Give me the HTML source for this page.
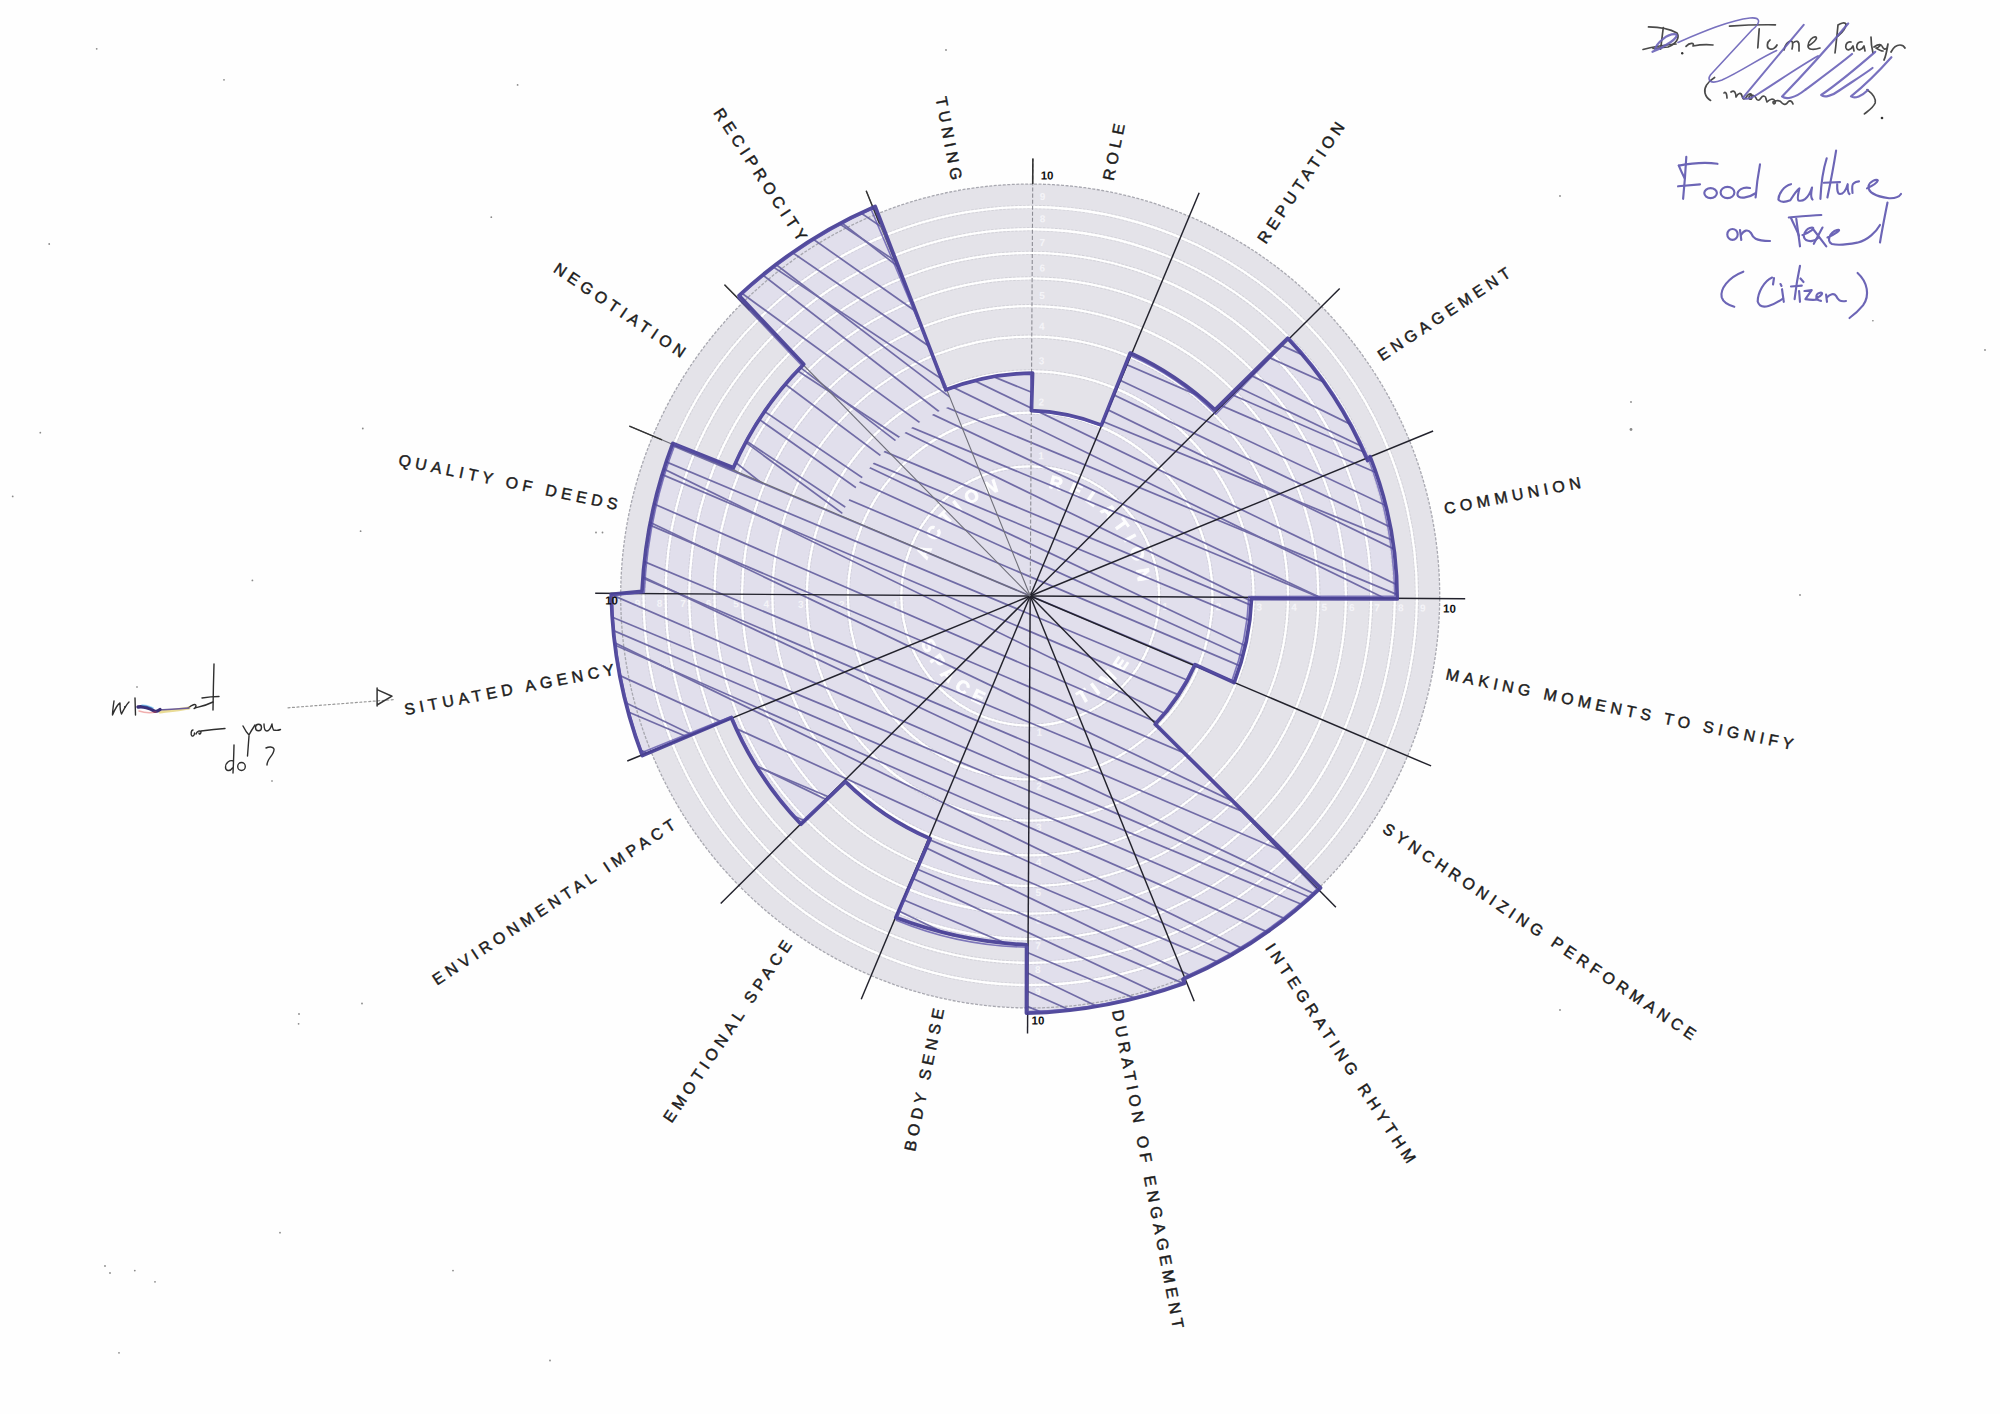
<!DOCTYPE html><html><head><meta charset="utf-8"><style>html,body{margin:0;padding:0;background:#fefefe;}svg{display:block}</style></head><body>
<svg width="2000" height="1414" viewBox="0 0 2000 1414" font-family="Liberation Sans, sans-serif">
<rect width="2000" height="1414" fill="#fefefe"/>
<g transform="translate(1030.2,596.0) rotate(0.35) scale(1,1.006)">
<circle r="409.5" fill="#e4e3e9"/>
<defs><clipPath id="cp"><path d="M0.0,-185.0 A185.0,185.0 0 0 1 70.8,-170.9 L99.9,-241.1 A261.0,261.0 0 0 1 184.6,-184.6 L257.4,-257.4 A364.0,364.0 0 0 1 336.3,-139.3 L338.1,-140.1 A366.0,366.0 0 0 1 366.0,-0.0 L221.0,-0.0 A221.0,221.0 0 0 1 204.2,84.6 L164.5,68.1 A178.0,178.0 0 0 1 125.9,125.9 L290.6,290.6 A411.0,411.0 0 0 1 157.3,379.7 L158.4,382.5 A414.0,414.0 0 0 1 0.0,414.0 L0.0,347.0 A347.0,347.0 0 0 1 -132.8,320.6 L-99.5,240.2 A260.0,260.0 0 0 1 -183.8,183.8 L-227.0,227.0 A321.0,321.0 0 0 1 -296.6,122.8 L-387.1,160.3 A419.0,419.0 0 0 1 -419.0,0.0 L-388.0,0.0 A388.0,388.0 0 0 1 -358.5,-148.5 L-297.5,-123.2 A322.0,322.0 0 0 1 -227.7,-227.7 L-294.2,-294.2 A416.0,416.0 0 0 1 -159.2,-384.3 L-84.6,-204.2 A221.0,221.0 0 0 1 -0.0,-221.0 Z"/></clipPath>
<path id="arcTop" d="M-109.0,0.0 A109,109 0 0 1 109.0,-0.0"/>
<path id="arcBot" d="M-119.0,0.0 A119,119 0 0 0 119.0,-0.0"/>
</defs>
<path d="M0.0,-185.0 A185.0,185.0 0 0 1 70.8,-170.9 L99.9,-241.1 A261.0,261.0 0 0 1 184.6,-184.6 L257.4,-257.4 A364.0,364.0 0 0 1 336.3,-139.3 L338.1,-140.1 A366.0,366.0 0 0 1 366.0,-0.0 L221.0,-0.0 A221.0,221.0 0 0 1 204.2,84.6 L164.5,68.1 A178.0,178.0 0 0 1 125.9,125.9 L290.6,290.6 A411.0,411.0 0 0 1 157.3,379.7 L158.4,382.5 A414.0,414.0 0 0 1 0.0,414.0 L0.0,347.0 A347.0,347.0 0 0 1 -132.8,320.6 L-99.5,240.2 A260.0,260.0 0 0 1 -183.8,183.8 L-227.0,227.0 A321.0,321.0 0 0 1 -296.6,122.8 L-387.1,160.3 A419.0,419.0 0 0 1 -419.0,0.0 L-388.0,0.0 A388.0,388.0 0 0 1 -358.5,-148.5 L-297.5,-123.2 A322.0,322.0 0 0 1 -227.7,-227.7 L-294.2,-294.2 A416.0,416.0 0 0 1 -159.2,-384.3 L-84.6,-204.2 A221.0,221.0 0 0 1 -0.0,-221.0 Z" fill="#e1dfec"/>
<circle r="128.9" fill="none" stroke="#a4a4ae" stroke-width="4.2" stroke-dasharray="2.5 1.5" opacity="0.28"/>
<circle r="128.9" fill="none" stroke="#ffffff" stroke-width="2.3"/>
<circle r="182.3" fill="none" stroke="#a4a4ae" stroke-width="4.2" stroke-dasharray="2.5 1.5" opacity="0.28"/>
<circle r="182.3" fill="none" stroke="#ffffff" stroke-width="2.3"/>
<circle r="223.3" fill="none" stroke="#a4a4ae" stroke-width="4.2" stroke-dasharray="2.5 1.5" opacity="0.28"/>
<circle r="223.3" fill="none" stroke="#ffffff" stroke-width="2.3"/>
<circle r="257.8" fill="none" stroke="#a4a4ae" stroke-width="4.2" stroke-dasharray="2.5 1.5" opacity="0.28"/>
<circle r="257.8" fill="none" stroke="#ffffff" stroke-width="2.3"/>
<circle r="288.2" fill="none" stroke="#a4a4ae" stroke-width="4.2" stroke-dasharray="2.5 1.5" opacity="0.28"/>
<circle r="288.2" fill="none" stroke="#ffffff" stroke-width="2.3"/>
<circle r="315.7" fill="none" stroke="#a4a4ae" stroke-width="4.2" stroke-dasharray="2.5 1.5" opacity="0.28"/>
<circle r="315.7" fill="none" stroke="#ffffff" stroke-width="2.3"/>
<circle r="341.0" fill="none" stroke="#a4a4ae" stroke-width="4.2" stroke-dasharray="2.5 1.5" opacity="0.28"/>
<circle r="341.0" fill="none" stroke="#ffffff" stroke-width="2.3"/>
<circle r="364.6" fill="none" stroke="#a4a4ae" stroke-width="4.2" stroke-dasharray="2.5 1.5" opacity="0.28"/>
<circle r="364.6" fill="none" stroke="#ffffff" stroke-width="2.3"/>
<circle r="386.7" fill="none" stroke="#a4a4ae" stroke-width="4.2" stroke-dasharray="2.5 1.5" opacity="0.28"/>
<circle r="386.7" fill="none" stroke="#ffffff" stroke-width="2.3"/>
<circle r="409.5" fill="none" stroke="#a8a8b0" stroke-width="1.3" stroke-dasharray="3 1.5"/>
<g fill="#ffffff" stroke="#ffffff" stroke-width="0.7" font-size="18" font-weight="bold" letter-spacing="6.9" opacity="0.95">
<text><textPath href="#arcTop" startOffset="35.4">ACTION</textPath></text>
<text><textPath href="#arcTop" startOffset="188.5">RELATION</textPath></text>
<text><textPath href="#arcBot" startOffset="48.6">SPACE</textPath></text>
<text><textPath href="#arcBot" startOffset="240.5">TIME</textPath></text>
</g>
<g fill="#f4f4f8" font-size="10" font-weight="bold" text-anchor="middle">
<text x="134.9" y="13">1</text>
<text x="-134.9" y="13">1</text>
<text x="10" y="-135.9">1</text>
<text x="10" y="138.9">1</text>
<text x="188.3" y="13">2</text>
<text x="-188.3" y="13">2</text>
<text x="10" y="-189.3">2</text>
<text x="10" y="192.3">2</text>
<text x="229.3" y="13">3</text>
<text x="-229.3" y="13">3</text>
<text x="10" y="-230.3">3</text>
<text x="10" y="233.3">3</text>
<text x="263.8" y="13">4</text>
<text x="-263.8" y="13">4</text>
<text x="10" y="-264.8">4</text>
<text x="10" y="267.8">4</text>
<text x="294.2" y="13">5</text>
<text x="-294.2" y="13">5</text>
<text x="10" y="-295.2">5</text>
<text x="10" y="298.2">5</text>
<text x="321.7" y="13">6</text>
<text x="-321.7" y="13">6</text>
<text x="10" y="-322.7">6</text>
<text x="10" y="325.7">6</text>
<text x="347.0" y="13">7</text>
<text x="-347.0" y="13">7</text>
<text x="10" y="-348.0">7</text>
<text x="10" y="351.0">7</text>
<text x="370.6" y="13">8</text>
<text x="-370.6" y="13">8</text>
<text x="10" y="-371.6">8</text>
<text x="10" y="374.6">8</text>
<text x="392.7" y="13">9</text>
<text x="-392.7" y="13">9</text>
<text x="10" y="-393.7">9</text>
<text x="10" y="396.7">9</text>
</g>
<mask id="mB" maskUnits="userSpaceOnUse" x="-600" y="-600" width="1200" height="1200"><rect x="-600" y="-600" width="1200" height="1200" fill="#fff"/><path d="M-189.4,-78.5 L-480.4,-199.0 A520,520 0 0 1 -199.0,-480.4 L-78.5,-189.4 A205,205 0 0 0 -189.4,-78.5 Z" fill="#000"/></mask>
<clipPath id="cw"><path d="M-189.4,-78.5 L-480.4,-199.0 A520,520 0 0 1 -199.0,-480.4 L-78.5,-189.4 A205,205 0 0 0 -189.4,-78.5 Z"/></clipPath>
<g clip-path="url(#cp)"><g mask="url(#mB)" stroke="#5d589a" stroke-width="1.7" fill="none" opacity="0.85">
<line x1="-450" y1="-836.3" x2="450" y2="-443.7"/>
<line x1="-450" y1="-835.4" x2="450" y2="-408.9"/>
<line x1="-450" y1="-803.1" x2="450" y2="-406.6"/>
<line x1="-450" y1="-773.5" x2="450" y2="-400.2"/>
<line x1="-450" y1="-771.9" x2="450" y2="-366.6"/>
<line x1="-450" y1="-733.4" x2="450" y2="-366.6"/>
<line x1="-450" y1="-716.9" x2="450" y2="-350.4"/>
<line x1="-450" y1="-719.3" x2="450" y2="-309.4"/>
<line x1="-450" y1="-714.9" x2="450" y2="-284.2"/>
<line x1="-450" y1="-682.8" x2="450" y2="-275.7"/>
<line x1="-450" y1="-646.8" x2="450" y2="-275.4"/>
<line x1="-450" y1="-645.5" x2="450" y2="-247.5"/>
<line x1="-450" y1="-618.5" x2="450" y2="-244.8"/>
<line x1="-450" y1="-596.8" x2="450" y2="-234.6"/>
<line x1="-450" y1="-594.3" x2="450" y2="-202.5"/>
<line x1="-450" y1="-577.5" x2="450" y2="-180.2"/>
<line x1="-450" y1="-558.5" x2="450" y2="-162.5"/>
<line x1="-450" y1="-538.5" x2="450" y2="-145.6"/>
<line x1="-450" y1="-541.8" x2="450" y2="-109.9"/>
<line x1="-450" y1="-515.6" x2="450" y2="-95.1"/>
<line x1="-450" y1="-478.0" x2="450" y2="-95.3"/>
<line x1="-450" y1="-461.2" x2="450" y2="-80.4"/>
<line x1="-450" y1="-463.4" x2="450" y2="-48.3"/>
<line x1="-450" y1="-449.4" x2="450" y2="-28.5"/>
<line x1="-450" y1="-436.6" x2="450" y2="-7.6"/>
<line x1="-450" y1="-382.6" x2="450" y2="-22.5"/>
<line x1="-450" y1="-399.5" x2="450" y2="26.0"/>
<line x1="-450" y1="-384.7" x2="450" y2="45.8"/>
<line x1="-450" y1="-335.2" x2="450" y2="30.1"/>
<line x1="-450" y1="-342.3" x2="450" y2="73.7"/>
<line x1="-450" y1="-301.3" x2="450" y2="65.0"/>
<line x1="-450" y1="-316.4" x2="450" y2="113.0"/>
<line x1="-450" y1="-266.9" x2="450" y2="101.6"/>
<line x1="-450" y1="-250.3" x2="450" y2="117.0"/>
<line x1="-450" y1="-260.5" x2="450" y2="156.9"/>
<line x1="-450" y1="-236.4" x2="450" y2="163.9"/>
<line x1="-450" y1="-205.9" x2="450" y2="167.8"/>
<line x1="-450" y1="-184.9" x2="450" y2="184.6"/>
<line x1="-450" y1="-166.0" x2="450" y2="202.4"/>
<line x1="-450" y1="-152.4" x2="450" y2="222.9"/>
<line x1="-450" y1="-163.6" x2="450" y2="266.3"/>
<line x1="-450" y1="-120.3" x2="450" y2="261.6"/>
<line x1="-450" y1="-97.1" x2="450" y2="278.1"/>
<line x1="-450" y1="-103.4" x2="450" y2="318.1"/>
<line x1="-450" y1="-57.9" x2="450" y2="309.3"/>
<line x1="-450" y1="-41.5" x2="450" y2="333.8"/>
<line x1="-450" y1="-45.6" x2="450" y2="370.0"/>
<line x1="-450" y1="-12.0" x2="450" y2="369.3"/>
<line x1="-450" y1="10.4" x2="450" y2="376.8"/>
<line x1="-450" y1="22.8" x2="450" y2="400.3"/>
<line x1="-450" y1="36.3" x2="450" y2="423.1"/>
<line x1="-450" y1="32.4" x2="450" y2="461.5"/>
<line x1="-450" y1="63.6" x2="450" y2="465.0"/>
<line x1="-450" y1="97.4" x2="450" y2="470.6"/>
<line x1="-450" y1="86.7" x2="450" y2="512.2"/>
<line x1="-450" y1="129.9" x2="450" y2="507.8"/>
<line x1="-450" y1="127.9" x2="450" y2="541.1"/>
<line x1="-450" y1="167.6" x2="450" y2="541.7"/>
<line x1="-450" y1="163.1" x2="450" y2="586.6"/>
<line x1="-450" y1="197.8" x2="450" y2="588.1"/>
<line x1="-450" y1="226.7" x2="450" y2="589.5"/>
<line x1="-450" y1="239.8" x2="450" y2="616.9"/>
<line x1="-450" y1="257.8" x2="450" y2="636.3"/>
<line x1="-450" y1="265.1" x2="450" y2="668.0"/>
<line x1="-450" y1="296.5" x2="450" y2="669.1"/>
<line x1="-450" y1="319.1" x2="450" y2="684.1"/>
<line x1="-450" y1="317.3" x2="450" y2="717.6"/>
<line x1="-450" y1="335.0" x2="450" y2="739.2"/>
<line x1="-450" y1="340.3" x2="450" y2="766.3"/>
<line x1="-450" y1="388.4" x2="450" y2="749.6"/>
<line x1="-450" y1="389.1" x2="450" y2="781.2"/>
<line x1="-450" y1="413.6" x2="450" y2="786.3"/>
<line x1="-450" y1="416.1" x2="450" y2="817.3"/>
<line x1="-450" y1="438.9" x2="450" y2="825.0"/>
</g></g>
<g clip-path="url(#cp)"><g clip-path="url(#cw)" stroke="#5d589a" stroke-width="1.7" fill="none" opacity="0.85">
<line x1="-450" y1="-1249.6" x2="100" y2="-822.3"/>
<line x1="-450" y1="-1206.8" x2="100" y2="-805.0"/>
<line x1="-450" y1="-1145.7" x2="100" y2="-792.3"/>
<line x1="-450" y1="-1118.6" x2="100" y2="-776.1"/>
<line x1="-450" y1="-1144.3" x2="100" y2="-741.7"/>
<line x1="-450" y1="-1071.6" x2="100" y2="-728.8"/>
<line x1="-450" y1="-1083.0" x2="100" y2="-699.6"/>
<line x1="-450" y1="-1048.9" x2="100" y2="-679.8"/>
<line x1="-450" y1="-1007.3" x2="100" y2="-659.7"/>
<line x1="-450" y1="-1033.7" x2="100" y2="-627.8"/>
<line x1="-450" y1="-1010.3" x2="100" y2="-604.4"/>
<line x1="-450" y1="-992.1" x2="100" y2="-581.3"/>
<line x1="-450" y1="-936.8" x2="100" y2="-564.9"/>
<line x1="-450" y1="-954.3" x2="100" y2="-534.0"/>
<line x1="-450" y1="-896.2" x2="100" y2="-518.5"/>
<line x1="-450" y1="-905.6" x2="100" y2="-488.6"/>
<line x1="-450" y1="-867.0" x2="100" y2="-471.0"/>
<line x1="-450" y1="-843.7" x2="100" y2="-451.4"/>
<line x1="-450" y1="-785.8" x2="100" y2="-437.8"/>
<line x1="-450" y1="-829.7" x2="100" y2="-401.3"/>
<line x1="-450" y1="-787.4" x2="100" y2="-382.3"/>
<line x1="-450" y1="-767.5" x2="100" y2="-361.8"/>
<line x1="-450" y1="-724.8" x2="100" y2="-345.1"/>
<line x1="-450" y1="-676.1" x2="100" y2="-327.8"/>
<line x1="-450" y1="-649.7" x2="100" y2="-306.1"/>
<line x1="-450" y1="-660.6" x2="100" y2="-277.3"/>
<line x1="-450" y1="-656.9" x2="100" y2="-254.4"/>
<line x1="-450" y1="-629.9" x2="100" y2="-234.8"/>
<line x1="-450" y1="-580.5" x2="100" y2="-217.0"/>
<line x1="-450" y1="-565.7" x2="100" y2="-198.2"/>
<line x1="-450" y1="-536.5" x2="100" y2="-177.7"/>
<line x1="-450" y1="-568.2" x2="100" y2="-147.4"/>
<line x1="-450" y1="-512.8" x2="100" y2="-132.9"/>
<line x1="-450" y1="-481.2" x2="100" y2="-111.4"/>
<line x1="-450" y1="-449.9" x2="100" y2="-91.5"/>
<line x1="-450" y1="-473.1" x2="100" y2="-61.2"/>
<line x1="-450" y1="-454.9" x2="100" y2="-36.5"/>
<line x1="-450" y1="-413.2" x2="100" y2="-20.9"/>
<line x1="-450" y1="-361.2" x2="100" y2="-8.2"/>
<line x1="-450" y1="-390.7" x2="100" y2="24.0"/>
<line x1="-450" y1="-358.5" x2="100" y2="45.1"/>
<line x1="-450" y1="-303.5" x2="100" y2="61.8"/>
<line x1="-450" y1="-297.0" x2="100" y2="83.6"/>
<line x1="-450" y1="-260.3" x2="100" y2="99.5"/>
<line x1="-450" y1="-269.5" x2="100" y2="126.6"/>
<line x1="-450" y1="-226.2" x2="100" y2="142.6"/>
<line x1="-450" y1="-251.1" x2="100" y2="176.3"/>
<line x1="-450" y1="-165.1" x2="100" y2="182.5"/>
<line x1="-450" y1="-204.4" x2="100" y2="213.4"/>
<line x1="-450" y1="-174.3" x2="100" y2="229.1"/>
<line x1="-450" y1="-124.1" x2="100" y2="244.1"/>
<line x1="-450" y1="-80.5" x2="100" y2="262.2"/>
<line x1="-450" y1="-93.0" x2="100" y2="288.0"/>
<line x1="-450" y1="-101.9" x2="100" y2="312.1"/>
<line x1="-450" y1="-32.9" x2="100" y2="320.5"/>
<line x1="-450" y1="-49.7" x2="100" y2="346.6"/>
<line x1="-450" y1="-29.1" x2="100" y2="367.3"/>
<line x1="-450" y1="-20.0" x2="100" y2="392.1"/>
<line x1="-450" y1="12.6" x2="100" y2="413.9"/>
<line x1="-450" y1="46.9" x2="100" y2="429.7"/>
<line x1="-450" y1="99.4" x2="100" y2="441.4"/>
<line x1="-450" y1="69.6" x2="100" y2="473.4"/>
<line x1="-450" y1="120.5" x2="100" y2="485.4"/>
<line x1="-450" y1="110.0" x2="100" y2="512.3"/>
<line x1="-450" y1="137.0" x2="100" y2="532.1"/>
<line x1="-450" y1="175.5" x2="100" y2="551.1"/>
</g></g>
<line x1="0" y1="0" x2="0.0" y2="-435.0" stroke="#8c8c94" stroke-width="1.1" stroke-dasharray="4 2"/>
<line x1="0.0" y1="-409.5" x2="0.0" y2="-435.0" stroke="#333" stroke-width="1.6"/>
<line x1="0" y1="0" x2="166.5" y2="-401.9" stroke="#22222c" stroke-width="1.45"/>
<line x1="0" y1="0" x2="307.6" y2="-307.6" stroke="#22222c" stroke-width="1.45"/>
<line x1="0" y1="0" x2="401.9" y2="-166.5" stroke="#22222c" stroke-width="1.45"/>
<line x1="0" y1="0" x2="435.0" y2="-0.0" stroke="#22222c" stroke-width="1.45"/>
<line x1="0" y1="0" x2="401.9" y2="166.5" stroke="#22222c" stroke-width="1.45"/>
<line x1="0" y1="0" x2="307.6" y2="307.6" stroke="#22222c" stroke-width="1.45"/>
<line x1="0" y1="0" x2="166.5" y2="401.9" stroke="#22222c" stroke-width="1.45"/>
<line x1="0" y1="0" x2="0.0" y2="435.0" stroke="#22222c" stroke-width="1.45"/>
<line x1="0" y1="0" x2="-166.5" y2="401.9" stroke="#22222c" stroke-width="1.45"/>
<line x1="0" y1="0" x2="-307.6" y2="307.6" stroke="#22222c" stroke-width="1.45"/>
<line x1="0" y1="0" x2="-401.9" y2="166.5" stroke="#22222c" stroke-width="1.45"/>
<line x1="0" y1="0" x2="-435.0" y2="0.0" stroke="#22222c" stroke-width="1.45"/>
<line x1="0" y1="0" x2="-401.9" y2="-166.5" stroke="#6e6e78" stroke-width="1.1"/>
<line x1="-369.1" y1="-152.9" x2="-401.9" y2="-166.5" stroke="#333" stroke-width="1.4"/>
<line x1="0" y1="0" x2="-307.6" y2="-307.6" stroke="#6e6e78" stroke-width="1.1"/>
<line x1="-282.5" y1="-282.5" x2="-307.6" y2="-307.6" stroke="#333" stroke-width="1.4"/>
<line x1="0" y1="0" x2="-166.5" y2="-401.9" stroke="#6e6e78" stroke-width="1.1"/>
<line x1="-152.9" y1="-369.1" x2="-166.5" y2="-401.9" stroke="#333" stroke-width="1.4"/>
<path d="M0.1,-184.2 A212.0,212.0 0 0 1 70.2,-170.3 L98.6,-242.1 A316.1,316.1 0 0 1 183.6,-186.1 L255.9,-257.8 A406.0,406.0 0 0 1 336.6,-136.7 L339.0,-140.6 A380.8,380.8 0 0 1 367.0,0.7 L221.4,1.1 A262.4,262.4 0 0 1 204.5,84.8 L165.3,67.3 A204.9,204.9 0 0 1 125.8,126.7 L292.1,288.3 A458.9,458.9 0 0 1 155.1,380.0 L156.7,383.9 A510.1,510.1 0 0 1 -1.2,414.7 L-1.5,346.7 A427.8,427.8 0 0 1 -132.4,320.4 L-98.6,241.8 A275.3,275.3 0 0 1 -183.7,185.6 L-227.8,228.2 A346.7,346.7 0 0 1 -298.1,122.8 L-386.9,161.0 A480.3,480.3 0 0 1 -419.0,0.9 L-388.2,-2.2 A478.4,478.4 0 0 1 -358.3,-149.5 L-297.6,-125.7 A336.2,336.2 0 0 1 -227.9,-229.0 L-293.0,-296.8 A476.4,476.4 0 0 1 -157.4,-386.2 L-85.6,-204.4 A253.4,253.4 0 0 1 1.0,-221.6 Z" fill="none" stroke="#4a4197" stroke-width="3.7" stroke-linejoin="round" opacity="0.95"/>
<path d="M1.2,-183.6 A216.0,216.0 0 0 1 69.4,-170.0 L98.2,-239.6 A272.5,272.5 0 0 1 184.4,-181.8 L257.7,-258.0 A409.8,409.8 0 0 1 336.9,-139.8 L337.4,-137.9 A385.8,385.8 0 0 1 364.5,-2.1 L218.6,-0.7 A267.9,267.9 0 0 1 202.1,83.4 L164.3,67.0 A221.4,221.4 0 0 1 125.9,125.0 L288.6,289.6 A476.4,476.4 0 0 1 157.1,377.4 L157.1,382.2 A480.3,480.3 0 0 1 0.0,413.2 L-0.4,349.0 A354.6,354.6 0 0 1 -131.9,323.1 L-100.3,242.3 A324.3,324.3 0 0 1 -184.6,186.2 L-228.0,226.5 A344.3,344.3 0 0 1 -297.6,121.4 L-387.3,158.0 A498.2,498.2 0 0 1 -418.3,2.1 L-386.0,-1.0 A477.7,477.7 0 0 1 -356.2,-148.7 L-299.1,-123.9 A335.9,335.9 0 0 1 -229.9,-227.9 L-294.2,-294.3 A510.1,510.1 0 0 1 -161.5,-383.5 L-84.0,-204.4 A234.5,234.5 0 0 1 -0.9,-221.0 Z" fill="none" stroke="#5a50a8" stroke-width="1.6" stroke-linejoin="round" opacity="0.75"/>
<g font-size="11.5" fill="#111" font-weight="bold">
<text x="8" y="-414">10</text>
<text x="413" y="14">10</text>
<text x="4" y="426">10</text>
<text x="-425" y="11">10</text>
</g>
</g>
<g font-size="16" fill="#1c1c1c" letter-spacing="4.6" stroke="#1c1c1c" stroke-width="0.45">
<text transform="translate(1114.9,181.6) rotate(-78.5)" y="-1.5" text-anchor="start">ROLE</text>
<text transform="translate(1267.0,245.5) rotate(-56.0)" y="-1.5" text-anchor="start">REPUTATION</text>
<text transform="translate(1383.1,362.8) rotate(-33.5)" y="-1.5" text-anchor="start">ENGAGEMENT</text>
<text transform="translate(1445.5,515.7) rotate(-11.0)" y="-1.5" text-anchor="start">COMMUNION</text>
<text transform="translate(1444.6,680.7) rotate(11.5)" y="-1.5" text-anchor="start">MAKING MOMENTS TO SIGNIFY</text>
<text transform="translate(1380.7,832.8) rotate(34.0)" y="-1.5" text-anchor="start">SYNCHRONIZING PERFORMANCE</text>
<text transform="translate(1263.4,948.9) rotate(56.6)" y="-1.5" text-anchor="start">INTEGRATING RHYTHM</text>
<text transform="translate(1110.5,1011.3) rotate(79.1)" y="-1.5" text-anchor="start">DURATION OF ENGAGEMENT</text>
<text transform="translate(946.5,1005.5) rotate(-78.4)" y="-1.5" text-anchor="end">BODY SENSE</text>
<text transform="translate(796.2,942.3) rotate(-55.9)" y="-1.5" text-anchor="end">EMOTIONAL SPACE</text>
<text transform="translate(681.4,826.4) rotate(-33.4)" y="-1.5" text-anchor="end">ENVIRONMENTAL IMPACT</text>
<text transform="translate(619.8,675.4) rotate(-10.9)" y="-1.5" text-anchor="end">SITUATED AGENCY</text>
<text transform="translate(620.7,512.3) rotate(11.6)" y="-1.5" text-anchor="end">QUALITY OF DEEDS</text>
<text transform="translate(683.9,362.0) rotate(34.1)" y="-1.5" text-anchor="end">NEGOTIATION</text>
<text transform="translate(799.8,247.2) rotate(56.6)" y="-1.5" text-anchor="end">RECIPROCITY</text>
<text transform="translate(950.8,185.6) rotate(79.1)" y="-1.5" text-anchor="end">TUNING</text>
</g>
<g fill="none" stroke-linecap="round" stroke-linejoin="round">
<!-- Food culture -->
<g stroke="#6c65b6" stroke-width="2.15">
<path d="M1686.3,156.9 C1685.6,170 1684.5,185 1683.1,198.8"/>
<path d="M1678.8,165.6 C1681,171 1683,175 1684.5,178"/>
<path d="M1678.8,165.6 C1690,163.5 1705,162 1717.5,163.8"/>
<path d="M1678.1,186.3 L1700,184.4"/>
<ellipse cx="1710.6" cy="193.1" rx="6.3" ry="5"/>
<ellipse cx="1727.5" cy="192.5" rx="6.9" ry="5.6"/>
<path d="M1750,188 C1743,186.5 1737,190 1737.5,195 C1738.5,199 1748,198.5 1756,193"/>
<path d="M1760,164.4 C1758,175 1756.5,186 1755.6,197.5"/>
<path d="M1791,184.2 C1784,185.6 1778.4,194 1778.4,199.6 C1781.2,203.1 1786.8,201.7 1790.3,200.3 C1793,196 1797,190 1799.4,188.4 C1798,194 1797,199 1798.5,200.5 C1802,201.5 1808,200 1812,187.5 C1811,193 1810.5,198 1812.5,199.5"/>
<path d="M1820.4,198.9 C1821,185 1823,170 1826.7,158.3"/>
<path d="M1836.1,150.6 C1833,170 1830,185 1827.4,197.5"/>
<path d="M1823.9,182.8 L1840,182.1"/>
<path d="M1837.2,184.2 C1837,190 1837.5,194 1840,194 C1843,194 1846,190 1847.7,184.2 C1847.5,189 1848,193 1849.5,194"/>
<path d="M1852.5,193 C1852,188 1852.5,184 1853.5,183.5 C1855,182 1857,181.5 1859,181.4"/>
<path d="M1867,188.4 C1872,186 1877,183 1877.8,180.5 C1877,178.5 1870,181 1868.5,186 C1868,191 1873,196 1889,198.2 C1895,198.5 1899,197 1901,194"/>
<!-- on Texel -->
<ellipse cx="1732.5" cy="234.4" rx="5.2" ry="5.4"/>
<path d="M1740,230 L1741.3,240"/>
<path d="M1741,235 C1744,230 1748,229 1751,233 C1753,238 1755,240.5 1770,241"/>
<path d="M1788.8,217.5 C1800,216.5 1810,215.5 1821.3,215"/>
<path d="M1791,218 C1794,225 1797,230 1799,236"/>
<path d="M1796.3,218.8 C1797.5,228 1799,238 1800,246.3"/>
<path d="M1802.5,235 C1810,232 1816,228 1812,227.5 C1806,228 1801,236 1806,240 C1810,242 1815,241 1818,238"/>
<path d="M1813.8,230 L1826.3,246.3"/>
<path d="M1822.5,227.5 L1813.8,243.8"/>
<path d="M1827.5,237.5 C1835,234 1843,229 1837,230 C1830,232 1826,241 1832,244 C1840,246 1850,244 1858,242.5 C1868,240 1876,232 1880,225"/>
<path d="M1887.5,202.5 C1885,215 1882,230 1880,242.5"/>
<!-- ( Citizen ) -->
<path d="M1743.3,271.7 C1728,277.5 1719.9,289.2 1721.7,297.3 C1723,302 1728,305 1734.3,306.8"/>
<path d="M1772.1,277.5 C1764,281 1757.7,292.8 1757.7,301.5 C1759.5,307.5 1765,307 1768.5,306 C1775,304 1781,300 1783,298.5"/>
<path d="M1773,284.5 L1774,278"/>
<path d="M1782,289.2 L1783.8,301.8"/>
<path d="M1780.5,284 L1781.5,286"/>
<path d="M1800,265.8 C1798,275 1796,287 1794.6,299.1"/>
<path d="M1791,286.5 L1801.8,285.6"/>
<path d="M1799.1,291 L1800,301.8"/>
<path d="M1800.5,278.5 L1803.5,282"/>
<path d="M1804.5,291 L1811.7,290.1 L1805.4,299.1 C1810,300 1815,300 1818,299.5"/>
<path d="M1816.2,298.2 C1822,296 1824,292 1820,292.8 C1815,294 1815,300 1821,300.9"/>
<path d="M1826.1,294.6 L1827,301.8"/>
<path d="M1827,297.3 C1830,294 1834,292.8 1836,295.8 C1838,300 1840,302 1846,301"/>
<path d="M1857.6,273 C1867.5,282 1870.2,295.5 1863,305.4 C1858,311.5 1853,315.5 1849.5,318"/>
<circle cx="1872.9" cy="320.7" r="0.8" fill="#777" stroke="none"/>
</g>
<!-- top scribble: black ink -->
<g stroke="#4a4a4a" stroke-width="1.7">
<path d="M1648.5,26.9 C1660,27 1670,29 1677,33 C1680,38 1676,44 1668,47 L1653,48.5"/>
<path d="M1663.3,27.5 L1660.6,49.1"/>
<path d="M1643,49.5 C1652,47 1665,45 1676,44"/>
<path d="M1686,46.4 C1690,42 1695,43 1693,46 C1698,45 1705,44 1713,45"/>
<path d="M1729.5,26.2 C1745,25 1760,24.6 1775.4,24.8"/>
<path d="M1759.2,28.9 L1757.8,47.8"/>
<path d="M1770,40 c-3,2 -4,8 0,9 c3,1 6,-2 7,-4 M1784,50 c1,-5 4,-9 7,-9 c2,0 2,4 1,8 M1793,43 c3,-3 6,-2 6,2 l0,6 M1808,46 c4,-2 10,-7 8,-9 c-3,-1 -8,4 -8,9 c0,4 6,4 12,2 M1838,25 c-1,10 -2,20 -3,28 M1838,25 c3,-2 7,-3 8,-1 c0,4 -3,8 -8,12 M1851,42 c-3,-1 -6,2 -5,6 c1,3 5,2 7,-2 l1,5 M1862,42 c-3,-1 -6,2 -5,6 c1,3 5,2 7,-2 l1,5 M1871,37 c0,6 1,12 2,16 M1874,47 c3,-2 5,-3 7,-2 c-2,2 -4,3 -5,3 c3,2 5,3 7,3 M1882,46 c1,3 3,4 5,2 l1,-4 c-1,6 -2,12 -4,16 M1891,52 c2,-4 5,-7 9,-7 c3,0 4,1 5,3" stroke-width="1.7"/>
<path d="M1714.6,77.5 C1707,82 1703.8,88.3 1705,93 C1706,97 1708,99 1710.6,100.4"/>
<path d="M1724,93 c2,-2 3,2 3,5 M1731,92 c3,-2 5,0 5,5 c2,-4 5,-5 6,-1 c1,4 3,4 5,0 c2,-3 5,-3 5,1 c0,3 -3,3 -3,0 c2,-3 6,-2 7,1 c1,3 3,3 5,0 c2,-3 5,-2 5,1 l1,3 c3,-3 6,-4 8,-1 c1,3 -2,4 -2,1 c3,-2 7,-2 9,1 c2,2 4,2 6,-1 c2,-2 4,-1 5,2"/>
<path d="M1867.1,89.6 C1873,94 1876,99 1875.2,103 C1873,108 1868,111 1864.4,113.9"/>
<circle cx="1882" cy="118" r="1.3" fill="#333" stroke="none"/>
<circle cx="1682.2" cy="53.2" r="1.2" fill="#333" stroke="none"/>
</g>
<!-- top scribble: purple crossing strokes -->
<g stroke="#6a62b8" stroke-width="2.2" opacity="0.9">
<path d="M1652.5,51.8 C1665,47 1680,37 1676,34.3 C1668,33 1656,43 1655,50"/>
<path d="M1678,42.4 C1700,33 1730,20 1750,18 C1760,17 1762,22 1752,30 L1710.6,74.8 C1707,80 1710,85 1722,80 C1740,72 1760,58 1776.7,50.5" stroke-width="1.6"/>
<path d="M1803.7,24.8 L1743,97.7 C1746,100 1752,98 1758,94 C1780,80 1800,66 1818,56" stroke-width="2"/>
<path d="M1848.2,23.5 C1830,45 1800,78 1782.1,96.4 C1786,100 1795,98 1805,90 C1825,75 1840,64 1852,54"/>
<path d="M1875.2,51.8 C1860,65 1840,82 1821.2,95 C1824,98 1832,96 1840,90 C1855,80 1866,73 1872.5,68"/>
<path d="M1891.4,57.2 C1880,70 1865,85 1851,96.4 C1855,99 1862,96 1868,90"/>
</g>
<!-- left annotation -->
<g stroke="#2e2e2e" stroke-width="1.4">
<path d="M114,701 C113,708 112.5,713 112.5,715 C115,709 118,704 120,703 C120,709 121,713 121.5,714 C124,709 126,705 129,702"/>
<path d="M135,698 C135.2,704 135.4,710 135.5,715"/>
<path d="M214,664 C213.5,680 213.2,695 213,710"/>
<path d="M202,698 C208,697 214,696.5 219,696.5"/>
<path d="M188,708 C192,705 196,703 196,706 C195,709 193,709 195,708 C198,707 205,706 213,702"/>
<path d="M193,730 c-2,0 -2.5,5 -1,6 c1.5,0.5 2.5,-1 2.5,-3 M196,734 c1,-3 4,-4 5,-2 c0,2 -2,3 -2,1 M201,731 C208,730 216,729 225,728.5"/>
<path d="M243,726 C245,730 247,733 249,735 C251,731 253,728 255,725 M249,736 C248.5,743 248,750 247.5,756"/>
<ellipse cx="258.5" cy="727.5" rx="3" ry="3.2"/>
<path d="M264,724 c0,4 1,7 3,7 c2.5,0 4,-4 5,-7 c0,3 1,5 1.5,6 c2,0.5 5,0.5 7,-0.5"/>
<path d="M233.5,761 c-4,-1.5 -8,2 -8,6 c0,4 4,5 7,1 M234,745 C233.8,755 233.4,765 233,773"/>
<ellipse cx="241.5" cy="766.5" rx="3.8" ry="4"/>
<path d="M266,748 C269,746.5 273,746.5 274,749 C274.5,753 270,757 268.5,760 C267.5,762 267,764 267,765"/>
<circle cx="124.8" cy="707" r="0.9" fill="#333" stroke="none"/>
<circle cx="137" cy="687" r="0.8" fill="#666" stroke="none"/>
<circle cx="272" cy="781" r="0.8" fill="#666" stroke="none"/>
</g>
<path d="M160,712 C168,711 178,710 189,708" stroke="#d8c040" stroke-width="3" opacity="0.55"/>
<path d="M158,710 C168,709.5 178,709 189,708" stroke="#6a5a9a" stroke-width="1.4"/>
<path d="M138,707 C143,706 150,708 154,711 C156,712 158,711 160,709.5" stroke="#3a2f78" stroke-width="3.4"/>
<path d="M139,711 C145,713 151,713 156,712" stroke="#e05050" stroke-width="1.5" opacity="0.45"/>
<path d="M142,705 C147,705 151,707 153,708" stroke="#40b0f0" stroke-width="1.5" opacity="0.5"/>
<path d="M288,707.8 L395.3,699.5" stroke="#9a9a9a" stroke-width="1.2" stroke-dasharray="2 2.5"/>
<path d="M377.1,688 L377.1,706 M377.1,689.6 L392,696.2 L377.9,704.5" stroke="#333" stroke-width="1.5"/>
<g fill="#8a8a8a"><circle cx="96.7" cy="48.8" r="0.9"/><circle cx="224" cy="79.8" r="0.9"/><circle cx="517.6" cy="84.9" r="0.9"/><circle cx="491.3" cy="217.2" r="0.9"/><circle cx="49.2" cy="244" r="0.9"/><circle cx="362.8" cy="428.5" r="0.9"/><circle cx="360.6" cy="531.2" r="0.9"/><circle cx="596" cy="532.5" r="0.9"/><circle cx="602.5" cy="532.5" r="0.9"/><circle cx="252.4" cy="580.4" r="0.9"/><circle cx="12.7" cy="496.4" r="0.9"/><circle cx="40.3" cy="432.7" r="0.9"/><circle cx="299" cy="1014" r="0.9"/><circle cx="298.6" cy="1023.8" r="0.9"/><circle cx="362" cy="1003.5" r="0.9"/><circle cx="110" cy="1273" r="0.9"/><circle cx="155" cy="1281.8" r="0.9"/><circle cx="134.8" cy="1270.6" r="0.9"/><circle cx="105" cy="1266" r="0.9"/><circle cx="119" cy="1352.8" r="0.9"/><circle cx="453" cy="1270.6" r="0.9"/><circle cx="550" cy="1360.5" r="0.9"/><circle cx="280" cy="1232.7" r="0.9"/><circle cx="1631" cy="429.5" r="1.4"/><circle cx="1631" cy="402" r="0.9"/><circle cx="1800" cy="595" r="0.9"/><circle cx="946" cy="50" r="0.9"/><circle cx="1560" cy="196" r="0.9"/><circle cx="1985" cy="350" r="0.9"/><circle cx="1560" cy="1010" r="0.9"/></g>
</g>

</svg></body></html>
